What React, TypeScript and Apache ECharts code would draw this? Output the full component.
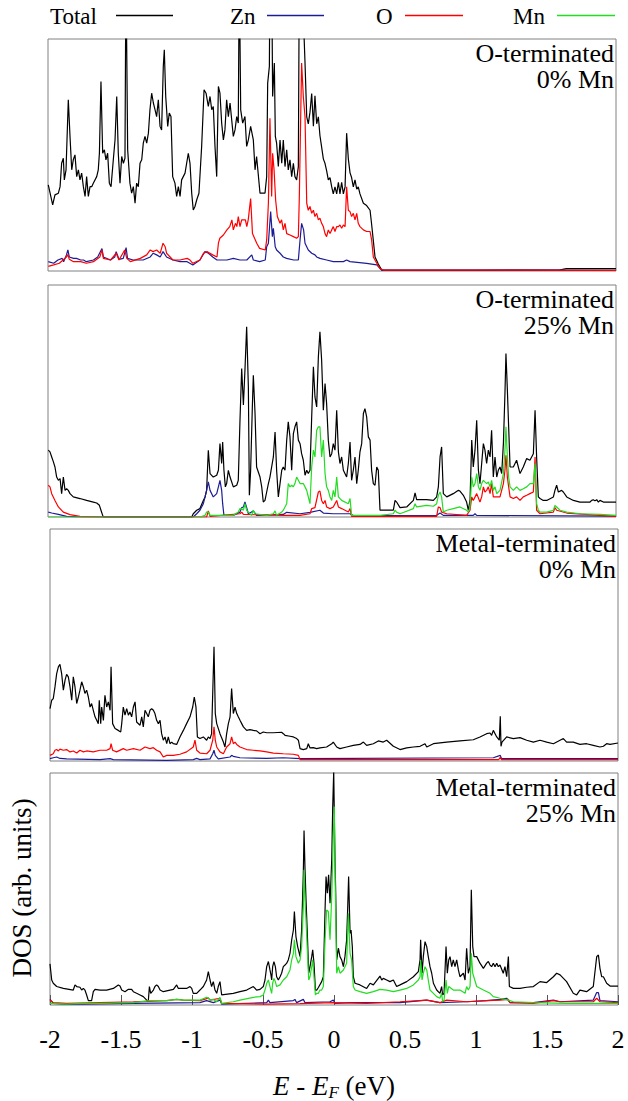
import React, { useEffect, useRef } from "react";
import * as echarts from "echarts";

const FONT = "'Liberation Serif', 'Times New Roman', Times, serif";
const xTickLabels = ["-2", "-1.5", "-1", "-0.5", "0", "0.5", "1", "1.5", "2"];
const legendNames = ["Total", "Zn", "O", "Mn"];
const seriesColors = ["#000000", "#1c1c96", "#ff0000", "#22dd22"];
const panelLabels = [
  ["O-terminated", "0% Mn"],
  ["O-terminated", "25% Mn"],
  ["Metal-terminated", "0% Mn"],
  ["Metal-terminated", "25% Mn"],
];

// ---------- Panel 1: O-terminated, 0% Mn ----------
const p1Total = [
  [-1.998, 36.9], [-1.967, 28.3], [-1.951, 32.6], [-1.927, 33.3], [-1.915, 36.1], [-1.904, 46.1], [-1.892, 48.3], [-1.885, 39],
  [-1.873, 43.3], [-1.857, 73.3], [-1.845, 57.6], [-1.833, 43.3], [-1.822, 47.6], [-1.81, 49.7], [-1.798, 40.4], [-1.786, 43.3],
  [-1.775, 39], [-1.763, 41.9], [-1.751, 36.1], [-1.739, 31.9], [-1.728, 40.4], [-1.716, 31.9], [-1.704, 36.1], [-1.692, 36.1],
  [-1.681, 37.6], [-1.657, 40.4], [-1.646, 43.3], [-1.638, 50.4], [-1.627, 81.1], [-1.615, 50.4], [-1.603, 51.9], [-1.592, 47.6],
  [-1.58, 50.4], [-1.568, 37.6], [-1.556, 36.1], [-1.54, 47.6], [-1.528, 56.1], [-1.516, 74.7], [-1.505, 50.4], [-1.493, 37.6],
  [-1.481, 49], [-1.469, 46.1], [-1.458, 48.3], [-1.451, 130], [-1.439, 51.9], [-1.423, 37.6], [-1.411, 33.3], [-1.399, 36.1],
  [-1.387, 29], [-1.376, 37.6], [-1.364, 36.1], [-1.352, 46.1], [-1.34, 47.6], [-1.329, 54.7], [-1.317, 57.6], [-1.305, 54.7],
  [-1.293, 59], [-1.282, 69], [-1.27, 76.1], [-1.258, 71.9], [-1.246, 69], [-1.235, 66.1], [-1.223, 73.3], [-1.211, 61.9],
  [-1.2, 60.4], [-1.188, 87.6], [-1.181, 94.7], [-1.171, 74.7], [-1.157, 61.9], [-1.146, 67.6], [-1.134, 66.1], [-1.122, 40.4],
  [-1.106, 37.6], [-1.094, 31.9], [-1.082, 36.1], [-1.07, 31.9], [-1.059, 39], [-1.035, 41.9], [-1.012, 50.4], [-1.0, 46.1],
  [-0.988, 33.3], [-0.977, 26.1], [-0.965, 27.6], [-0.953, 30.4], [-0.937, 33.3], [-0.918, 53.3], [-0.901, 77.6], [-0.887, 76.1],
  [-0.871, 70.4], [-0.859, 74.7], [-0.847, 69], [-0.836, 70.4], [-0.824, 53.3], [-0.812, 40.4], [-0.8, 79], [-0.789, 76.1],
  [-0.777, 63.3], [-0.765, 56.1], [-0.754, 60.4], [-0.742, 73.3], [-0.73, 66.1], [-0.718, 71.9], [-0.695, 57.6], [-0.683, 60.4],
  [-0.671, 66.1], [-0.66, 63.3], [-0.653, 130], [-0.643, 69], [-0.629, 63.3], [-0.613, 66.1], [-0.601, 53.3], [-0.589, 56.1],
  [-0.573, 61.9], [-0.554, 56.1], [-0.542, 43.3], [-0.531, 49], [-0.507, 33.3], [-0.472, 33.3], [-0.46, 40.4], [-0.453, 80.4],
  [-0.441, 87.6], [-0.437, 130], [-0.425, 130], [-0.418, 74.7], [-0.406, 89], [-0.399, 57.6], [-0.39, 54.7], [-0.378, 44.7],
  [-0.366, 56.1], [-0.354, 46.1], [-0.343, 56.1], [-0.331, 44.7], [-0.319, 51.9], [-0.308, 43.3], [-0.296, 47.6], [-0.284, 40.4],
  [-0.272, 46.1], [-0.261, 40.4], [-0.249, 39], [-0.237, 44.7], [-0.23, 130], [-0.214, 130], [-0.19, 89], [-0.178, 66],
  [-0.167, 63], [-0.155, 68], [-0.143, 76], [-0.131, 62], [-0.12, 75], [-0.108, 63], [-0.096, 66], [-0.085, 58], [-0.073, 53],
  [-0.061, 48], [-0.049, 46], [-0.038, 43], [-0.026, 39], [-0.014, 40], [-0.002, 36], [0.009, 33], [0.021, 36], [0.033, 33],
  [0.045, 38], [0.056, 33], [0.068, 38], [0.08, 33], [0.092, 36], [0.103, 59], [0.115, 48], [0.127, 42], [0.138, 40], [0.15, 36],
  [0.162, 39], [0.174, 35], [0.185, 36], [0.197, 33], [0.221, 29], [0.244, 28], [0.268, 26], [0.279, 20], [0.291, 13], [0.303, 6],
  [0.326, 3], [0.35, 0.4], [1.0, 0.3], [1.6, 0.4], [1.65, 1], [2.0, 1],
];
const p1Zn = [
  [-1.998, 4], [-1.96, 3.3], [-1.93, 4.7], [-1.9, 5.4], [-1.89, 4], [-1.87, 6.9], [-1.86, 9], [-1.85, 6], [-1.82, 5.4], [-1.8, 5.4],
  [-1.77, 4.7], [-1.75, 4.7], [-1.73, 4], [-1.68, 4.7], [-1.65, 6], [-1.62, 9.6], [-1.61, 6], [-1.56, 4.7], [-1.53, 6], [-1.52, 8.3],
  [-1.5, 5], [-1.47, 5.4], [-1.45, 10], [-1.44, 5.4], [-1.4, 4.7], [-1.33, 4.7], [-1.28, 6], [-1.26, 7.6], [-1.235, 6.9], [-1.21, 6],
  [-1.19, 8.3], [-1.165, 6], [-1.12, 4.7], [-1.07, 4], [-1.02, 4], [-0.98, 2.6], [-0.93, 4.7], [-0.895, 8.3], [-0.87, 7.6], [-0.84, 6],
  [-0.81, 4.7], [-0.79, 4.7], [-0.74, 4.7], [-0.695, 5.4], [-0.648, 4.7], [-0.6, 4.7], [-0.565, 6.9], [-0.554, 4.7], [-0.51, 4],
  [-0.47, 4.7], [-0.46, 10.4], [-0.448, 11.9], [-0.432, 25.4], [-0.42, 14.7], [-0.413, 18.3], [-0.4, 10.4], [-0.39, 9], [-0.366, 7.6],
  [-0.343, 6], [-0.32, 5.4], [-0.27, 4.7], [-0.237, 4.7], [-0.225, 13.3], [-0.214, 20.4], [-0.2, 17.6], [-0.19, 11.9], [-0.167, 9],
  [-0.143, 7.6], [-0.12, 6.9], [-0.108, 6], [-0.085, 5.4], [-0.038, 4.7], [0.009, 4], [0.08, 4], [0.103, 4.7], [0.127, 4], [0.244, 3.3],
  [0.315, 2.6], [0.35, 0.4], [2.0, 0.3],
];
const p1O = [
  [-1.998, 2], [-1.96, 2.6], [-1.92, 3.3], [-1.87, 6], [-1.86, 7], [-1.85, 5], [-1.82, 4], [-1.77, 4], [-1.73, 3.3], [-1.68, 4],
  [-1.635, 6], [-1.62, 9], [-1.61, 5.4], [-1.56, 4.7], [-1.52, 7.6], [-1.5, 4.7], [-1.46, 9], [-1.445, 5.4], [-1.42, 4], [-1.35, 5.4],
  [-1.305, 6.9], [-1.28, 9], [-1.26, 8.3], [-1.235, 9], [-1.21, 7.6], [-1.19, 11.9], [-1.175, 10.4], [-1.165, 7.6], [-1.14, 6],
  [-1.12, 4.7], [-1.07, 4.7], [-1.02, 5.4], [-1.0, 4.7], [-0.98, 3.3], [-0.93, 4.7], [-0.905, 7.6], [-0.88, 8.3], [-0.86, 7.6],
  [-0.84, 6.9], [-0.81, 6], [-0.8, 11.9], [-0.79, 14], [-0.765, 15.4], [-0.74, 17.6], [-0.72, 19], [-0.705, 21.9], [-0.695, 17.6],
  [-0.68, 20.4], [-0.67, 19], [-0.66, 23.3], [-0.648, 19], [-0.636, 21.9], [-0.61, 21.9], [-0.6, 19], [-0.59, 21.9], [-0.573, 31],
  [-0.56, 16], [-0.54, 13.3], [-0.53, 11.9], [-0.51, 9.7], [-0.47, 9], [-0.46, 13.3], [-0.448, 29], [-0.437, 65.4], [-0.425, 31.9],
  [-0.418, 50.4], [-0.408, 43.3], [-0.397, 30.4], [-0.385, 23.3], [-0.366, 20.4], [-0.355, 21.9], [-0.343, 17.6], [-0.331, 20.4],
  [-0.319, 16], [-0.296, 15.4], [-0.272, 14.7], [-0.249, 14], [-0.237, 14.7], [-0.23, 31.9], [-0.214, 89], [-0.202, 74.7],
  [-0.19, 66], [-0.178, 29], [-0.167, 26], [-0.155, 27.6], [-0.143, 24.7], [-0.131, 26], [-0.12, 23.3], [-0.108, 24.7], [-0.096, 21.9],
  [-0.085, 22.6], [-0.073, 20.4], [-0.061, 19], [-0.049, 16], [-0.038, 14.7], [-0.026, 17.6], [-0.014, 16], [-0.002, 17.6],
  [0.009, 19], [0.021, 16.9], [0.033, 19], [0.045, 19], [0.056, 19.7], [0.068, 18.3], [0.08, 19.7], [0.092, 19], [0.103, 36],
  [0.115, 26], [0.127, 25.4], [0.138, 23.3], [0.15, 24.7], [0.162, 21.9], [0.174, 24.7], [0.185, 20.4], [0.197, 19], [0.221, 17.6],
  [0.244, 16.9], [0.268, 16.9], [0.279, 13.3], [0.291, 6], [0.315, 3.3], [0.338, 1], [0.362, 0.4], [2.0, 0.3],
];

// ---------- Panel 2: O-terminated, 25% Mn ----------
const p2Total = [
  [-1.998, 28.6], [-1.986, 27.9], [-1.974, 25.7], [-1.962, 23.6], [-1.951, 21.4], [-1.939, 17.1], [-1.927, 15.7], [-1.915, 16.4],
  [-1.904, 10], [-1.892, 17.1], [-1.88, 11.4], [-1.869, 12.1], [-1.857, 11.4], [-1.845, 10], [-1.822, 8.6], [-1.775, 7.9],
  [-1.728, 7.1], [-1.681, 6.4], [-1.657, 6], [-1.638, 5], [-1.627, 2.9], [-1.615, 0.7], [-1.61, 0], [-0.988, 0], [-0.977, 1.4],
  [-0.953, 2.9], [-0.93, 3.6], [-0.906, 7.1], [-0.894, 8.6], [-0.883, 11.4], [-0.871, 28.6], [-0.859, 18.6], [-0.836, 17.1],
  [-0.812, 17.9], [-0.8, 20], [-0.789, 31.4], [-0.777, 22.9], [-0.77, 32.1], [-0.761, 20], [-0.751, 12.9], [-0.742, 14.3],
  [-0.73, 20], [-0.718, 17.1], [-0.695, 12.9], [-0.671, 13.6], [-0.66, 15.7], [-0.648, 41.4], [-0.636, 63.6], [-0.624, 47.9],
  [-0.613, 62.9], [-0.601, 81.4], [-0.589, 55.7], [-0.582, 9.3], [-0.573, 20], [-0.561, 47.1], [-0.554, 60.7], [-0.542, 44.3],
  [-0.531, 21.4], [-0.507, 17.1], [-0.495, 12.9], [-0.484, 6.4], [-0.472, 7.1], [-0.46, 10.7], [-0.448, 14.3], [-0.437, 17.1],
  [-0.413, 25.7], [-0.401, 36.4], [-0.39, 20], [-0.378, 8.6], [-0.366, 14.3], [-0.354, 20], [-0.343, 21.4], [-0.331, 20],
  [-0.319, 32.9], [-0.308, 40.7], [-0.296, 34.3], [-0.284, 20], [-0.272, 35.7], [-0.261, 38.6], [-0.249, 40.7], [-0.237, 32.9],
  [-0.225, 31.4], [-0.214, 27.1], [-0.202, 24.3], [-0.19, 17.9], [-0.178, 20], [-0.167, 18.6], [-0.155, 20], [-0.143, 42.9],
  [-0.131, 64.3], [-0.12, 51.4], [-0.108, 47.1], [-0.096, 68.6], [-0.085, 79.3], [-0.073, 67.1], [-0.061, 45.7], [-0.049, 57.1],
  [-0.038, 48.6], [-0.026, 32.9], [-0.014, 25.7], [-0.002, 27.1], [0.009, 31.4], [0.021, 28.6], [0.033, 45.7], [0.045, 27.9],
  [0.056, 22.9], [0.068, 25.7], [0.08, 20], [0.103, 17.1], [0.115, 22.9], [0.127, 32.1], [0.138, 15.7], [0.15, 20], [0.162, 25.7],
  [0.174, 14.3], [0.185, 20], [0.197, 27.9], [0.209, 31.4], [0.221, 44.3], [0.232, 46.4], [0.244, 42.9], [0.256, 34.3],
  [0.268, 32.9], [0.279, 20], [0.291, 14.3], [0.303, 13.6], [0.315, 21.4], [0.326, 20], [0.338, 2.9], [0.432, 2.9], [0.444, 7.1],
  [0.455, 6.4], [0.479, 4], [0.526, 4.3], [0.573, 7.1], [0.585, 10.3], [0.596, 7.4], [0.667, 7.4], [0.714, 7.1], [0.737, 8.6],
  [0.749, 12.9], [0.761, 25.7], [0.772, 30], [0.784, 10], [0.808, 8.6], [0.854, 10], [0.89, 11.4], [0.901, 11.1], [0.925, 9.3],
  [0.948, 6.4], [0.96, 2.9], [0.972, 7.1], [0.984, 32.9], [0.995, 21.4], [1.007, 28.6], [1.019, 41.4], [1.031, 20], [1.042, 14.3],
  [1.054, 22.9], [1.066, 31.4], [1.077, 28.6], [1.089, 22.9], [1.101, 28.6], [1.113, 25.7], [1.124, 37.1], [1.136, 17.1],
  [1.148, 25.7], [1.16, 17.1], [1.171, 20], [1.183, 21.4], [1.195, 18.6], [1.207, 31.4], [1.218, 52.9], [1.225, 70], [1.235, 54.3],
  [1.244, 38.6], [1.254, 21.4], [1.277, 21.4], [1.3, 24.3], [1.324, 18.6], [1.347, 21.4], [1.371, 25], [1.394, 24.3], [1.418, 27.1],
  [1.43, 45.7], [1.441, 25.7], [1.453, 8.6], [1.465, 7.9], [1.488, 7.1], [1.512, 7.1], [1.559, 8.6], [1.57, 11.4], [1.582, 13.6],
  [1.594, 10.7], [1.617, 11.4], [1.629, 10.7], [1.653, 8.6], [1.7, 7.1], [1.746, 6.4], [1.817, 6.4], [1.829, 7.1], [1.84, 7.4],
  [1.852, 6.9], [1.864, 7.4], [1.876, 6.4], [1.887, 7.1], [1.911, 6.4], [2.0, 6.4],
];
const p2Zn = [
  [-1.998, 2.1], [-1.974, 1.7], [-1.927, 1.1], [-1.869, 0.3], [-1.751, 0], [-0.977, 0], [-0.953, 1.4], [-0.93, 2.9], [-0.906, 5.7],
  [-0.894, 8.6], [-0.883, 11.4], [-0.871, 15], [-0.859, 11.4], [-0.836, 8.6], [-0.812, 10], [-0.8, 12.9], [-0.789, 15.7],
  [-0.777, 11.4], [-0.77, 5.7], [-0.761, 0.7], [-0.695, 0.7], [-0.648, 2.1], [-0.636, 4], [-0.624, 4.3], [-0.613, 6.4], [-0.601, 4],
  [-0.589, 1.4], [-0.554, 2.6], [-0.531, 0.7], [-0.343, 1.1], [-0.319, 2], [-0.225, 1.4], [-0.155, 2], [-0.085, 2.9], [-0.061, 1.7],
  [0.009, 1.4], [0.127, 1.4], [0.15, 0.6], [0.737, 0.7], [0.761, 1.7], [0.784, 0.7], [0.995, 0.7], [1.007, 1.4], [1.019, 0.7],
  [2.0, 0.4],
];
const p2O = [
  [-1.998, 13.6], [-1.986, 12.9], [-1.974, 10], [-1.951, 7.1], [-1.927, 4.3], [-1.892, 2.1], [-1.845, 1], [-1.775, 0.3], [-1.634, 0],
  [-0.883, 0], [-0.871, 2.6], [-0.859, 0.3], [-0.648, 1.4], [-0.636, 2.1], [-0.624, 1.1], [-0.343, 0.7], [-0.225, 0.7], [-0.155, 1.4],
  [-0.143, 3.6], [-0.12, 4], [-0.096, 10.7], [-0.085, 11.1], [-0.073, 7.1], [-0.061, 5.7], [-0.049, 7.1], [-0.038, 4.3], [-0.014, 3.6],
  [0.009, 4.3], [0.033, 7.1], [0.045, 4.3], [0.068, 3.6], [0.115, 2.1], [0.127, 3.6], [0.138, 0.3], [0.737, 0.3], [0.749, 4.3],
  [0.761, 4], [0.772, 2.1], [0.808, 1.4], [0.948, 0.7], [0.972, 2.9], [0.984, 8.6], [0.995, 7.1], [1.019, 10], [1.042, 6.4],
  [1.054, 8.6], [1.066, 12.9], [1.077, 10.7], [1.089, 11.4], [1.101, 12.9], [1.113, 10], [1.124, 14.3], [1.136, 8.6], [1.16, 8.6],
  [1.183, 8.6], [1.207, 14.3], [1.218, 20], [1.225, 26.4], [1.235, 17], [1.244, 12.9], [1.254, 8.6], [1.277, 7.9], [1.3, 8.6],
  [1.324, 7.1], [1.347, 8.6], [1.371, 9.3], [1.394, 10], [1.418, 10.7], [1.43, 25.7], [1.441, 2.9], [1.465, 1.4], [1.559, 2.1],
  [1.57, 4], [1.582, 2.9], [1.653, 1.7], [1.887, 0.7], [2.0, 0.3],
];
const p2Mn = [
  [-1.998, 0], [-0.93, 0], [-0.894, 0.7], [-0.883, 2.1], [-0.871, 2.1], [-0.859, 0.7], [-0.695, 0.7], [-0.66, 2.1], [-0.648, 3.6],
  [-0.636, 3.6], [-0.624, 2.9], [-0.613, 5.7], [-0.601, 2.9], [-0.589, 2.1], [-0.566, 0.7], [-0.554, 2.9], [-0.542, 1.4],
  [-0.46, 0.7], [-0.413, 1.4], [-0.401, 2.6], [-0.39, 0.7], [-0.354, 2.1], [-0.343, 2.9], [-0.319, 5.7], [-0.308, 14.3],
  [-0.296, 12.9], [-0.284, 13.6], [-0.272, 12.9], [-0.261, 14.3], [-0.249, 17.1], [-0.237, 15.7], [-0.225, 14.3], [-0.202, 14.3],
  [-0.178, 11.4], [-0.167, 8.6], [-0.155, 5.7], [-0.143, 21.4], [-0.131, 28.6], [-0.12, 25.7], [-0.108, 37.1], [-0.096, 38.6],
  [-0.085, 38.6], [-0.073, 25.7], [-0.061, 32.9], [-0.049, 18.6], [-0.038, 12.9], [-0.026, 11.4], [-0.014, 8.6], [-0.002, 7.1],
  [0.009, 11.4], [0.021, 8.6], [0.033, 17.1], [0.045, 8.6], [0.068, 7.1], [0.115, 5.7], [0.127, 7.9], [0.138, 0.7], [0.338, 0.7],
  [0.432, 1.4], [0.444, 2.9], [0.455, 2.1], [0.479, 1.4], [0.573, 3.6], [0.585, 5.7], [0.596, 4.3], [0.667, 5], [0.714, 4.6],
  [0.737, 5.7], [0.749, 9.3], [0.761, 10.7], [0.772, 8.6], [0.784, 2.1], [0.808, 2.9], [0.854, 3.6], [0.901, 4.3], [0.948, 2.9],
  [0.96, 2.1], [0.972, 4.3], [0.984, 17.1], [0.995, 12.9], [1.007, 14.3], [1.019, 18.6], [1.031, 12.9], [1.042, 11.4], [1.054, 14.3],
  [1.066, 15.7], [1.089, 14.3], [1.101, 15], [1.113, 12.9], [1.124, 15.7], [1.136, 11.4], [1.148, 12.9], [1.16, 10], [1.183, 11.4],
  [1.207, 18.6], [1.218, 28.6], [1.225, 38.6], [1.235, 25.7], [1.244, 17.1], [1.254, 12.9], [1.277, 11.4], [1.3, 12.9],
  [1.324, 11.4], [1.347, 12.1], [1.371, 12.9], [1.394, 14.3], [1.418, 14.3], [1.43, 22.9], [1.441, 5.7], [1.453, 2.9], [1.465, 2.1],
  [1.512, 2.1], [1.559, 2.9], [1.57, 5], [1.582, 4.3], [1.606, 2.9], [1.653, 2.1], [1.746, 1.4], [1.887, 1.1], [2.0, 0.7],
];

// ---------- Panel 3: Metal-terminated, 0% Mn ----------
const p3Total = [
  [-2.0, 22.4], [-1.988, 26], [-1.977, 26.7], [-1.965, 31.7], [-1.953, 37.4], [-1.941, 40.3], [-1.93, 41.4], [-1.918, 37.4],
  [-1.906, 30.3], [-1.894, 34.6], [-1.883, 37.1], [-1.871, 36], [-1.859, 31.7], [-1.847, 26], [-1.836, 36], [-1.824, 31.7],
  [-1.812, 24.6], [-1.8, 27.4], [-1.789, 30.3], [-1.777, 33.9], [-1.765, 31.7], [-1.754, 28.9], [-1.742, 30.3], [-1.73, 27.4],
  [-1.718, 23.1], [-1.707, 24.6], [-1.695, 21.7], [-1.683, 18.9], [-1.671, 17.4], [-1.66, 16], [-1.653, 26], [-1.643, 16],
  [-1.636, 23.1], [-1.624, 17.4], [-1.613, 28.1], [-1.601, 23.1], [-1.589, 25.3], [-1.577, 21.7], [-1.57, 40.3], [-1.559, 16],
  [-1.542, 13.9], [-1.519, 13.1], [-1.502, 12.4], [-1.495, 16], [-1.484, 23.1], [-1.472, 19.6], [-1.46, 22.4], [-1.448, 19.6],
  [-1.437, 21], [-1.425, 18.9], [-1.413, 23.1], [-1.401, 25.3], [-1.39, 16.7], [-1.366, 15.3], [-1.354, 18.9], [-1.343, 14.6],
  [-1.331, 21.7], [-1.319, 20.3], [-1.308, 18.9], [-1.296, 21.7], [-1.284, 22.4], [-1.272, 21.7], [-1.261, 20.3], [-1.249, 17.4],
  [-1.237, 16], [-1.225, 17.4], [-1.214, 11.7], [-1.202, 8.9], [-1.19, 10.3], [-1.178, 7.4], [-1.167, 10.3], [-1.155, 7.4],
  [-1.143, 8.1], [-1.131, 7.4], [-1.108, 7.1], [-1.085, 10.3], [-1.061, 13.1], [-1.038, 16], [-1.014, 18.9], [-0.995, 23.1],
  [-0.984, 27.4], [-0.972, 23.1], [-0.962, 10.3], [-0.944, 9.6], [-0.92, 10.3], [-0.897, 8.9], [-0.885, 10.3], [-0.873, 9.6],
  [-0.862, 11.7], [-0.845, 48.9], [-0.836, 20.3], [-0.826, 16], [-0.803, 11.7], [-0.779, 8.1], [-0.768, 6], [-0.756, 11.7],
  [-0.744, 16], [-0.732, 18.9], [-0.721, 31], [-0.709, 20.3], [-0.697, 23.1], [-0.685, 20.3], [-0.674, 18.9], [-0.662, 17.4],
  [-0.65, 16], [-0.638, 14.6], [-0.615, 13.1], [-0.592, 13.4], [-0.568, 13.1], [-0.545, 12.9], [-0.521, 11.7], [-0.498, 12.4],
  [-0.474, 12.1], [-0.427, 12.1], [-0.369, 12.3], [-0.357, 11.7], [-0.345, 11], [-0.31, 10.6], [-0.286, 10.3], [-0.263, 9.6],
  [-0.251, 8.9], [-0.239, 5.3], [-0.216, 4.9], [-0.192, 5.3], [-0.181, 7.4], [-0.169, 5.6], [-0.146, 5.7], [-0.122, 5.3],
  [-0.099, 5.6], [-0.052, 6], [-0.016, 7.4], [-0.005, 8.1], [0.019, 6], [0.042, 5.3], [0.089, 6], [0.136, 6.7], [0.183, 7.1],
  [0.207, 8.1], [0.23, 6.7], [0.277, 7.4], [0.312, 8.6], [0.347, 8.1], [0.371, 8.9], [0.418, 6.3], [0.465, 4.9], [0.512, 5.6],
  [0.559, 6], [0.606, 6.3], [0.641, 7.4], [0.653, 6], [0.7, 7.4], [0.793, 8.1], [0.887, 8.6], [0.981, 9.1], [1.028, 10.3],
  [1.075, 11.7], [1.099, 12], [1.11, 11], [1.122, 13.1], [1.146, 10.3], [1.164, 8.9], [1.171, 19.1], [1.176, 6.3], [1.183, 8.1],
  [1.216, 10.3], [1.263, 9.6], [1.31, 10], [1.357, 8.9], [1.404, 8.1], [1.451, 8.9], [1.498, 8.1], [1.545, 7.4], [1.592, 8.9],
  [1.615, 9.6], [1.638, 8.1], [1.685, 8.1], [1.732, 7.1], [1.779, 7.4], [1.826, 6.7], [1.873, 6], [1.897, 6.3], [1.92, 7.4],
  [1.944, 7.1], [2.0, 7.7],
];
const p3Zn = [
  [-2.0, 1], [-1.977, 1.4], [-1.953, 1.7], [-1.93, 1.1], [-1.883, 0.9], [-1.648, 0.6], [-1.577, 1], [-1.554, 0.6], [-1.178, 0.3],
  [-0.991, 0.6], [-0.967, 1.1], [-0.944, 0.6], [-0.873, 0.9], [-0.854, 3.1], [-0.845, 4.6], [-0.836, 2.4], [-0.815, 0.9],
  [-0.732, 1.7], [-0.721, 2.4], [-0.709, 2], [-0.662, 1.4], [-0.474, 1.1], [-0.357, 1.4], [-0.239, 1], [1.122, 1.4], [1.171, 2.4],
  [1.18, 1], [2.0, 1],
];
const p3O = [
  [-2.0, 2.4], [-1.977, 3.1], [-1.965, 4.6], [-1.953, 4.9], [-1.941, 4.3], [-1.93, 5.1], [-1.906, 4.6], [-1.883, 4.9],
  [-1.859, 3.9], [-1.836, 4.3], [-1.812, 3.4], [-1.789, 4.6], [-1.765, 3.9], [-1.742, 4.3], [-1.695, 3.9], [-1.648, 4.6],
  [-1.601, 4.6], [-1.577, 5.3], [-1.57, 7.4], [-1.559, 4.6], [-1.531, 3.9], [-1.484, 5.3], [-1.46, 4.6], [-1.413, 5.3],
  [-1.366, 4.6], [-1.331, 6], [-1.296, 5.3], [-1.272, 5.7], [-1.249, 4.6], [-1.225, 3.9], [-1.202, 1.7], [-1.178, 2.4],
  [-1.131, 2.4], [-1.085, 2.9], [-1.038, 3.9], [-0.991, 6], [-0.979, 8.9], [-0.967, 4.6], [-0.944, 3.4], [-0.897, 3.1],
  [-0.873, 4.6], [-0.854, 8.9], [-0.845, 14.6], [-0.836, 8.9], [-0.826, 6], [-0.803, 3.9], [-0.779, 3.1], [-0.756, 6],
  [-0.732, 7.4], [-0.721, 10.3], [-0.709, 7.4], [-0.697, 8.1], [-0.685, 7.1], [-0.662, 6], [-0.615, 4.9], [-0.568, 4.6],
  [-0.521, 4.3], [-0.474, 3.9], [-0.427, 3.4], [-0.357, 3.1], [-0.286, 2.9], [-0.251, 2.4], [-0.239, 0.6], [1.16, 0.6],
  [1.171, 1.6], [1.18, 0.6], [2.0, 0.6],
];

// ---------- Panel 4: Metal-terminated, 25% Mn ----------
const p4Total = [
  [-2.0, 17.6], [-1.988, 10.7], [-1.977, 9.3], [-1.953, 7.9], [-1.906, 7.1], [-1.836, 6.4], [-1.824, 8.6], [-1.812, 7.9],
  [-1.789, 7.6], [-1.777, 6.4], [-1.765, 7.1], [-1.754, 6.4], [-1.742, 4.3], [-1.73, 1.9], [-1.707, 1.9], [-1.695, 5.7],
  [-1.683, 6.7], [-1.648, 6.4], [-1.601, 6.4], [-1.554, 7.1], [-1.519, 8.6], [-1.507, 8.1], [-1.495, 6.4], [-1.472, 5.7],
  [-1.448, 6.7], [-1.425, 6.7], [-1.413, 5.7], [-1.39, 5], [-1.366, 4.3], [-1.343, 3.6], [-1.319, 2.1], [-1.308, 1.4], [-1.3, 7.9],
  [-1.291, 5], [-1.272, 6.4], [-1.261, 7.9], [-1.249, 8.6], [-1.237, 7.9], [-1.225, 6.4], [-1.202, 5.7], [-1.155, 6.4],
  [-1.131, 6.7], [-1.108, 8.6], [-1.096, 7.1], [-1.038, 7.1], [-1.014, 7.9], [-1.002, 7.1], [-0.991, 5], [-0.967, 5], [-0.944, 6.4],
  [-0.92, 7.9], [-0.897, 10.7], [-0.885, 14.3], [-0.873, 10.7], [-0.862, 7.9], [-0.85, 10], [-0.838, 6.4], [-0.826, 5],
  [-0.815, 7.9], [-0.803, 10], [-0.791, 4.3], [-0.709, 5], [-0.662, 5.7], [-0.615, 6.4], [-0.568, 7.9], [-0.545, 6.4],
  [-0.521, 6.7], [-0.498, 7.9], [-0.486, 10.7], [-0.474, 16.4], [-0.462, 18.6], [-0.451, 15], [-0.444, 12.9], [-0.439, 10.7],
  [-0.432, 16.4], [-0.423, 18.6], [-0.413, 16.4], [-0.404, 12.1], [-0.392, 10.7], [-0.38, 12.1], [-0.369, 13.6], [-0.357, 16.4],
  [-0.345, 17.1], [-0.333, 17.9], [-0.322, 19.3], [-0.31, 22.1], [-0.298, 27.9], [-0.286, 32.1], [-0.279, 40], [-0.268, 29.3],
  [-0.256, 25], [-0.239, 20.7], [-0.228, 32.1], [-0.216, 56.4], [-0.211, 74.7], [-0.204, 57.9], [-0.197, 45], [-0.188, 30.7],
  [-0.178, 13.6], [-0.169, 16.4], [-0.157, 20.7], [-0.15, 23.6], [-0.141, 17.9], [-0.131, 6.4], [-0.122, 6.4], [-0.11, 7.5],
  [-0.087, 10], [-0.075, 12.1], [-0.063, 40.7], [-0.056, 55], [-0.047, 47.9], [-0.038, 55.7], [-0.028, 43.6], [-0.016, 62.1],
  [-0.009, 85], [-0.002, 100], [0.005, 69.3], [0.012, 47.9], [0.019, 19.3], [0.031, 24.3], [0.042, 20.7], [0.054, 19.3],
  [0.066, 16.4], [0.077, 20.7], [0.089, 27.9], [0.096, 40.7], [0.103, 55], [0.113, 30.7], [0.12, 32.1], [0.129, 25], [0.136, 12.1],
  [0.148, 9.3], [0.183, 8.6], [0.23, 7.1], [0.254, 9.3], [0.277, 8.6], [0.324, 12.4], [0.336, 10.7], [0.347, 11.4], [0.371, 10.7],
  [0.394, 10], [0.418, 10.7], [0.441, 7.9], [0.465, 8.6], [0.512, 10], [0.559, 12.1], [0.594, 14.3], [0.606, 19.3], [0.61, 27.9],
  [0.62, 13.6], [0.629, 20.7], [0.641, 27.1], [0.653, 25], [0.664, 20.7], [0.676, 16.4], [0.688, 13.6], [0.7, 9.3], [0.723, 6.4],
  [0.746, 5], [0.758, 7.9], [0.765, 4.3], [0.775, 5], [0.789, 25], [0.798, 13.6], [0.808, 19.3], [0.817, 20.7], [0.829, 16.4],
  [0.84, 19.3], [0.852, 16.4], [0.864, 19.3], [0.876, 15], [0.887, 12.1], [0.911, 13.6], [0.923, 10.7], [0.934, 24.3],
  [0.946, 13.6], [0.958, 16.4], [0.967, 49.3], [0.977, 25], [0.986, 20.7], [1.005, 20.7], [1.028, 17.9], [1.052, 15.7],
  [1.075, 17.9], [1.087, 18.6], [1.099, 17.1], [1.11, 16.4], [1.122, 17.9], [1.134, 16.4], [1.146, 17.9], [1.157, 16.4],
  [1.169, 17.1], [1.192, 13.6], [1.204, 16.4], [1.216, 12.1], [1.228, 20.7], [1.235, 7.9], [1.263, 7.1], [1.31, 7.1], [1.357, 7.6],
  [1.404, 7.9], [1.451, 10], [1.498, 9.6], [1.545, 12.1], [1.568, 13.6], [1.592, 12.9], [1.638, 10], [1.685, 5], [1.709, 4.3],
  [1.732, 6.4], [1.779, 5.7], [1.826, 7.9], [1.85, 20.7], [1.862, 21.4], [1.873, 15.7], [1.885, 12.1], [1.897, 12.1], [1.92, 9.3],
  [1.944, 8.1], [2.0, 8.1],
];
const p4Zn = [
  [-2.0, 2.4], [-1.977, 0.7], [-1.883, 0.3], [-1.413, 0.7], [-0.944, 1], [-0.897, 1.9], [-0.85, 1], [-0.803, 2.1], [-0.791, 0.4],
  [-0.474, 1], [-0.462, 2.1], [-0.451, 1], [-0.286, 1.9], [-0.275, 2.4], [-0.263, 1], [-0.216, 2.4], [-0.204, 1], [-0.028, 1.4],
  [-0.005, 2.1], [0.007, 0.7], [0.113, 1], [0.465, 1], [0.653, 2.1], [0.746, 1], [0.934, 1.4], [1.075, 1.9], [1.169, 2.4],
  [1.216, 2.9], [1.239, 1], [1.404, 1], [1.545, 2.1], [1.592, 1.4], [1.826, 2.1], [1.85, 5.3], [1.862, 5.3], [1.873, 1.9],
  [2.0, 1.4],
];
const p4O = [
  [-2.0, 2.1], [-1.977, 1], [-1.883, 0.7], [-1.648, 1], [-1.413, 1.3], [-1.178, 1.9], [-1.108, 2.4], [-1.061, 2.1], [-0.944, 1.9],
  [-0.897, 2.7], [-0.885, 3.1], [-0.873, 2.1], [-0.803, 2.9], [-0.791, 0.7], [-0.474, 0.4], [-0.239, 0.6], [-0.005, 1], [0.23, 0.7],
  [0.465, 1.4], [0.653, 2.1], [0.746, 1], [0.793, 2.1], [0.934, 1.4], [1.075, 1.9], [1.169, 2.1], [1.228, 2.4], [1.239, 1],
  [1.404, 0.7], [1.545, 1.9], [1.592, 1.4], [1.826, 1.4], [1.85, 2.9], [1.873, 1.4], [2.0, 1],
];
const p4Mn = [
  [-2.0, 0.7], [-1.883, 0.4], [-1.765, 0.7], [-1.648, 0.7], [-1.413, 1], [-1.296, 1.9], [-1.178, 1.9], [-1.108, 2.4], [-1.061, 2.1],
  [-0.944, 2.1], [-0.897, 3.3], [-0.885, 2.9], [-0.873, 2.1], [-0.85, 2.4], [-0.826, 1.4], [-0.803, 3.3], [-0.791, 0.7],
  [-0.709, 1.4], [-0.662, 2.1], [-0.568, 3.3], [-0.521, 3.6], [-0.498, 4.3], [-0.486, 6.4], [-0.474, 9.3], [-0.462, 10.7],
  [-0.451, 7.9], [-0.439, 5], [-0.432, 9.3], [-0.423, 11.4], [-0.413, 10], [-0.404, 7.9], [-0.38, 8.6], [-0.357, 10.7],
  [-0.333, 12.1], [-0.31, 15], [-0.298, 19.3], [-0.286, 22.1], [-0.279, 27.9], [-0.268, 20.7], [-0.251, 17.9], [-0.239, 19.3],
  [-0.228, 25], [-0.216, 42.1], [-0.211, 57.9], [-0.204, 45], [-0.197, 36.4], [-0.188, 23.6], [-0.178, 10.7], [-0.169, 12.1],
  [-0.157, 16.4], [-0.15, 19.3], [-0.141, 12.1], [-0.131, 4.3], [-0.122, 5], [-0.11, 5], [-0.099, 6.4], [-0.087, 6.4],
  [-0.075, 7.9], [-0.063, 27.9], [-0.052, 40.7], [-0.04, 40], [-0.028, 27.9], [-0.016, 46.4], [-0.005, 72.1], [0.002, 85],
  [0.009, 50.7], [0.019, 13.6], [0.031, 16.4], [0.042, 13.6], [0.066, 15], [0.089, 17.9], [0.101, 39.3], [0.113, 22.1],
  [0.124, 19.3], [0.136, 7.9], [0.148, 6.4], [0.183, 5.7], [0.23, 5], [0.277, 5.7], [0.324, 6.7], [0.371, 6.4], [0.418, 5.7],
  [0.465, 6.4], [0.512, 7.1], [0.559, 8.6], [0.594, 10.7], [0.606, 12.1], [0.61, 19.3], [0.62, 10.7], [0.629, 13.6], [0.641, 16.4],
  [0.653, 15], [0.664, 10.7], [0.676, 6.4], [0.7, 5], [0.723, 3.6], [0.746, 2.9], [0.758, 5], [0.765, 1.4], [0.775, 2.1],
  [0.789, 10.7], [0.798, 5], [0.808, 7.9], [0.84, 6.4], [0.887, 6.4], [0.923, 5], [0.934, 7.9], [0.946, 6.4], [0.958, 7.9],
  [0.967, 22.1], [0.977, 13.6], [1.005, 7.9], [1.052, 6.4], [1.099, 5], [1.122, 3.6], [1.169, 2.9], [1.228, 2.1], [1.263, 1.4],
  [1.404, 1], [1.638, 0.7], [2.0, 0.7],
];

const panels = [
  { total: p1Total, zn: p1Zn, o: p1O, mn: null },
  { total: p2Total, zn: p2Zn, o: p2O, mn: p2Mn },
  { total: p3Total, zn: p3Zn, o: p3O, mn: null },
  { total: p4Total, zn: p4Zn, o: p4O, mn: p4Mn },
];

export default function App() {
  const ref = useRef<HTMLDivElement>(null);

  useEffect(() => {
    if (!ref.current) return;
    const chart = echarts.init(ref.current, null, { renderer: "svg" });

    const boxes = [
      { left: 48, top: 39 },
      { left: 48, top: 285 },
      { left: 50, top: 529 },
      { left: 50, top: 773 },
    ];
    const W = 568;
    const H = 232;
    const yMax = 99.3;

    const grids = boxes.map((b) => ({
      left: b.left,
      top: b.top,
      width: W,
      height: H,
      show: true,
      borderColor: "#808080",
      borderWidth: 1,
      backgroundColor: "transparent",
    }));

    const xAxes = boxes.map((_, i) => {
      const last = i === boxes.length - 1;
      return {
        type: "value",
        gridIndex: i,
        min: -2,
        max: 2,
        interval: 0.5,
        show: true,
        axisLine: { show: false },
        splitLine: { show: false },
        axisTick: {
          show: last,
          inside: true,
          length: 10,
          lineStyle: { color: "#555", width: 1 },
        },
        axisLabel: {
          show: last,
          margin: 21,
          fontFamily: FONT,
          fontSize: 26,
          color: "#000",
          formatter: (v: number) => xTickLabels[Math.round((v + 2) / 0.5)] ?? String(v),
        },
      };
    });

    const yAxes = boxes.map((_, i) => ({
      type: "value",
      gridIndex: i,
      min: 0,
      max: yMax,
      show: false,
    }));

    const series: any[] = [];
    panels.forEach((p, i) => {
      const sets = [p.total, p.zn, p.o, p.mn];
      sets.forEach((d, k) => {
        if (!d) return;
        series.push({
          type: "line",
          name: legendNames[k] + " " + (i + 1),
          xAxisIndex: i,
          yAxisIndex: i,
          data: d,
          showSymbol: false,
          symbol: "none",
          clip: true,
          lineStyle: { color: seriesColors[k], width: 1.2 },
          z: 2 + k,
        });
      });
    });

    const graphics: any[] = [];
    // legend
    const legendText = [50, 230, 376, 513];
    const legendLine = [
      [116, 173],
      [267, 324],
      [405, 463],
      [557, 615],
    ];
    legendNames.forEach((n, k) => {
      graphics.push({
        type: "text",
        x: legendText[k],
        y: 16,
        style: { text: n, fontFamily: FONT, fontSize: 23, fill: "#000", align: "left", verticalAlign: "middle" },
      });
      graphics.push({
        type: "line",
        shape: { x1: legendLine[k][0], y1: 15.5, x2: legendLine[k][1], y2: 15.5 },
        style: { stroke: seriesColors[k], lineWidth: 1.3 },
      });
    });
    // panel labels
    boxes.forEach((b, i) => {
      const rx = b.left + W - 2;
      panelLabels[i].forEach((t, j) => {
        graphics.push({
          type: "text",
          x: rx,
          y: b.top + 14 + j * 26.5,
          style: {
            text: t,
            fontFamily: FONT,
            fontSize: 26,
            fill: "#000",
            align: "right",
            verticalAlign: "middle",
          },
        });
      });
    });
    // y axis title
    graphics.push({
      type: "text",
      x: 22,
      y: 888,
      rotation: Math.PI / 2,
      style: {
        text: "DOS (arb. units)",
        fontFamily: FONT,
        fontSize: 27,
        fill: "#000",
        align: "center",
        verticalAlign: "middle",
      },
    });
    // x axis title
    graphics.push({
      type: "text",
      x: 334,
      y: 1086,
      style: {
        text: "{i|E} - {i|E}{sub|F} (eV)",
        fontFamily: FONT,
        fontSize: 27,
        fill: "#000",
        align: "center",
        verticalAlign: "middle",
        rich: {
          i: { fontFamily: FONT, fontStyle: "italic", fontSize: 27, fill: "#000" },
          sub: {
            fontFamily: FONT,
            fontStyle: "italic",
            fontSize: 17,
            fill: "#000",
            verticalAlign: "bottom",
            padding: [12, 0, 0, 0],
          },
        },
      },
    });

    chart.setOption({
      animation: false,
      backgroundColor: "#fff",
      textStyle: { fontFamily: FONT },
      grid: grids,
      xAxis: xAxes,
      yAxis: yAxes,
      series,
      graphic: graphics,
    });

    return () => chart.dispose();
  }, []);

  return (
    <div
      ref={ref}
      style={{ position: "fixed", left: 0, top: 0, width: 628, height: 1101, background: "#fff" }}
    />
  );
}
